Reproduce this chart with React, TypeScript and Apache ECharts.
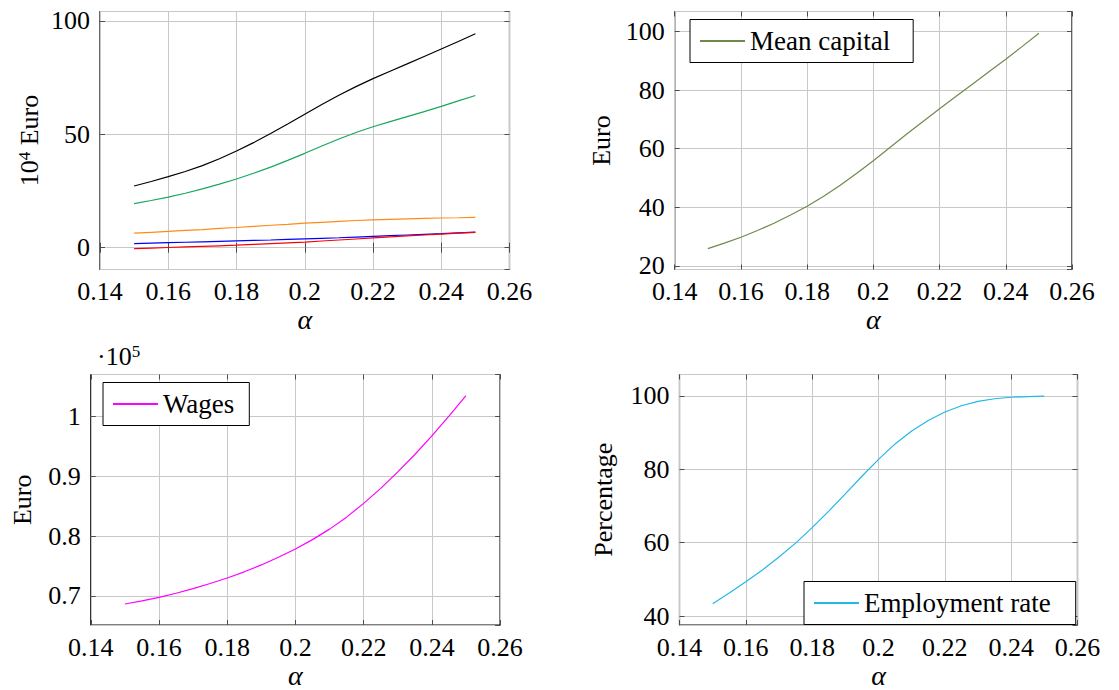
import React, { useEffect, useRef } from "react";
import * as echarts from "echarts";

const FONT = "'Liberation Serif', 'Times New Roman', serif";

// x values (alpha)
const alpha = [0.15, 0.155, 0.16, 0.165, 0.17, 0.175, 0.18, 0.185, 0.19, 0.195, 0.2, 0.205, 0.21, 0.215, 0.22, 0.225, 0.23, 0.235, 0.24, 0.245, 0.25];

// Panel 1 (10^4 Euro)
const blackVals = [27.2, 29.2, 31.3, 33.6, 36.2, 39.2, 42.6, 46.3, 50.3, 54.5, 58.8, 63.1, 67.2, 71.0, 74.5, 77.8, 81.0, 84.3, 87.6, 90.9, 94.3];
const greenVals = [19.4, 20.8, 22.3, 24.0, 25.9, 28.0, 30.3, 32.8, 35.5, 38.5, 41.6, 44.8, 47.9, 50.8, 53.3, 55.6, 57.8, 60.0, 62.3, 64.7, 67.1];
const orangeVals = [6.4, 6.8, 7.2, 7.6, 8.0, 8.5, 8.9, 9.4, 9.9, 10.3, 10.8, 11.2, 11.6, 12.0, 12.3, 12.5, 12.7, 12.9, 13.1, 13.2, 13.4];
const blueVals = [1.8, 2.0, 2.2, 2.4, 2.6, 2.8, 3.0, 3.2, 3.4, 3.65, 3.9, 4.15, 4.4, 4.7, 5.0, 5.3, 5.6, 5.9, 6.2, 6.55, 6.9];
const redVals = [-0.4, -0.15, 0.1, 0.35, 0.6, 0.85, 1.1, 1.45, 1.8, 2.15, 2.5, 2.95, 3.4, 3.85, 4.3, 4.75, 5.2, 5.6, 6.0, 6.4, 6.8];

// Panel 2 (Euro)
const meanCapital = [25.9, 27.8, 29.8, 32.1, 34.6, 37.4, 40.4, 43.8, 47.5, 51.6, 55.9, 60.4, 64.9, 69.3, 73.6, 77.9, 82.1, 86.3, 90.5, 94.9, 99.4];

// Panel 3 (Euro)
const wages = [68660, 69190, 69780, 70460, 71230, 72080, 73000, 74030, 75180, 76450, 77850, 79400, 81150, 83150, 85450, 87950, 90700, 93600, 96700, 100000, 103400];

// Panel 4 (Percentage)
const employment = [43.4, 46.3, 49.4, 52.6, 56.1, 59.9, 64.1, 68.6, 73.3, 78.1, 82.7, 86.9, 90.4, 93.3, 95.6, 97.3, 98.5, 99.2, 99.6, 99.8, 99.9];

const xTicks = { min: 0.14, max: 0.26, interval: 0.02 };

const grids = [
  { left: 100, top: 11.5, width: 409.5, height: 258 },
  { left: 674.7, top: 11.5, width: 397.3, height: 258 },
  { left: 90.8, top: 374.5, width: 409.3, height: 258.5 },
  { left: 679.5, top: 374.5, width: 398, height: 258.5 },
];

const yConf = [
  { min: -9.6, max: 104.1, step: 50, name: "{b|10}{s|4} Euro", gap: 58, fmt: (v: number) => String(v) },
  { min: 18.8, max: 106.8, step: 20, name: "Euro", gap: 60, fmt: (v: number) => String(v) },
  { min: 65160, max: 106940, step: 10000, name: "Euro", gap: 55, fmt: (v: number) => String(parseFloat((v / 1e5).toFixed(4))) },
  { min: 37.6, max: 105.8, step: 20, name: "Percentage", gap: 63, fmt: (v: number) => String(v) },
];

const tickStyle = { inside: true, length: 5, lineStyle: { color: "#4d4d4d", width: 1 } };
const splitStyle = { show: true, lineStyle: { color: "#c8c8c8", width: 1 } };

function buildOption() {
  const xAxis: any[] = [];
  const yAxis: any[] = [];
  grids.forEach((_, i) => {
    xAxis.push({
      type: "value", gridIndex: i, position: "bottom", ...xTicks,
      axisLine: { show: false }, axisTick: tickStyle, splitLine: splitStyle,
      axisLabel: { fontFamily: FONT, fontSize: 26, color: "#000", margin: 9 },
      name: "α", nameLocation: "middle", nameGap: 36,
      nameTextStyle: { fontFamily: FONT, fontStyle: "italic", fontSize: 28, color: "#000" },
    });
    xAxis.push({
      type: "value", gridIndex: i, position: "top", ...xTicks,
      axisLine: { show: false }, axisTick: tickStyle, splitLine: { show: false },
      axisLabel: { show: false },
    });
    const c = yConf[i];
    yAxis.push({
      type: "value", gridIndex: i, position: "left", min: c.min, max: c.max,
      minInterval: c.step, maxInterval: c.step,
      axisLine: { show: false }, axisTick: tickStyle, splitLine: splitStyle,
      axisLabel: { fontFamily: FONT, fontSize: 26, color: "#000", margin: 10, showMinLabel: false, showMaxLabel: false, formatter: c.fmt },
      name: c.name, nameLocation: "middle", nameGap: c.gap,
      nameTextStyle: {
        fontFamily: FONT, fontSize: 26, color: "#000",
        rich: {
          b: { fontFamily: FONT, fontSize: 26, color: "#000" },
          s: { fontFamily: FONT, fontSize: 17, color: "#000", verticalAlign: "top" },
        },
      },
    });
    yAxis.push({
      type: "value", gridIndex: i, position: "right", min: c.min, max: c.max,
      minInterval: c.step, maxInterval: c.step,
      axisLine: { show: false }, axisTick: tickStyle, splitLine: { show: false },
      axisLabel: { show: false },
    });
  });

  const mk = (name: string, vals: number[], color: string, panel: number) => ({
    type: "line", name, xAxisIndex: panel * 2, yAxisIndex: panel * 2,
    data: alpha.map((a, k) => [a, vals[k]]),
    symbol: "none", showSymbol: false, smooth: false, silent: true,
    lineStyle: { width: 1.2, color }, itemStyle: { color },
  });

  const legendBase = {
    orient: "horizontal", borderColor: "#000", borderWidth: 1, backgroundColor: "#fff",
    itemWidth: 45, itemHeight: 14, itemGap: 0, selectedMode: false,
    itemStyle: { opacity: 0 },
    textStyle: { fontFamily: FONT, fontSize: 27, color: "#000" },
  };

  return {
    animation: false,
    backgroundColor: "#fff",
    grid: grids.map((g) => ({ ...g, show: true, borderColor: "#000", borderWidth: 1.2, backgroundColor: "transparent" })),
    xAxis, yAxis,
    legend: [
      { ...legendBase, data: ["Mean capital"], left: 690, top: 19.5, padding: [8, 23, 8, 9] },
      { ...legendBase, data: ["Wages"], left: 103, top: 382.5, padding: [8, 15, 8, 9] },
      { ...legendBase, data: ["Employment rate"], left: 804, top: 581.5, padding: [8, 25, 8, 9] },
    ],
    graphic: [
      {
        type: "text", left: 97, top: 343,
        style: {
          text: "{a|·10}{s|5}", fill: "#000",
          rich: {
            a: { fontFamily: FONT, fontSize: 26, fill: "#000" },
            s: { fontFamily: FONT, fontSize: 17, fill: "#000", verticalAlign: "top" },
          },
        },
      },
    ],
    series: [
      mk("Total", blackVals, "#000000", 0),
      mk("Component A", greenVals, "#16a85a", 0),
      mk("Component B", orangeVals, "#ff8a1a", 0),
      mk("Component C", blueVals, "#0000ff", 0),
      mk("Component D", redVals, "#ff0000", 0),
      mk("Mean capital", meanCapital, "#6f8a4c", 1),
      mk("Wages", wages, "#ff00ff", 2),
      mk("Employment rate", employment, "#22b8e8", 3),
    ],
  };
}

export default function App() {
  const ref = useRef<HTMLDivElement>(null);
  useEffect(() => {
    if (!ref.current) return;
    const chart = echarts.init(ref.current, undefined, { renderer: "svg" });
    chart.setOption(buildOption() as any);
    return () => chart.dispose();
  }, []);
  return (
    <div
      ref={ref}
      style={{ position: "absolute", left: 0, top: 0, width: 1119, height: 690, background: "#fff" }}
    />
  );
}
